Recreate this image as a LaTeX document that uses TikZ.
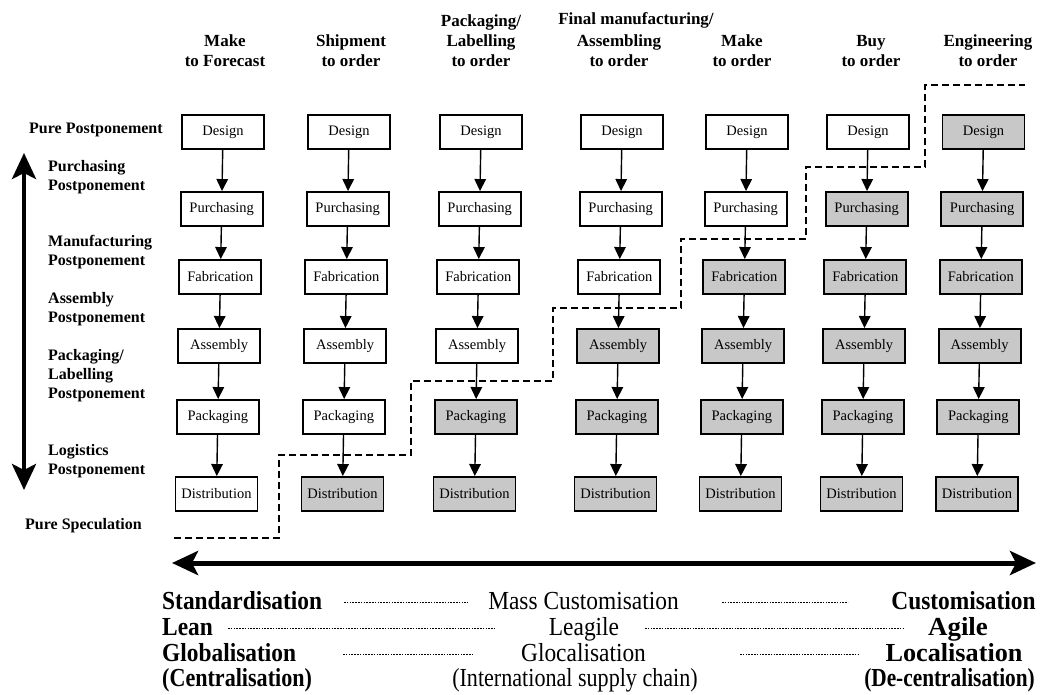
\documentclass[tikz,border=0pt]{standalone}
\usepackage{fontspec}
\setmainfont{Liberation Serif}
\newfontfamily\spectrumfont{Liberation Serif}[FakeStretch=0.9]
\newfontfamily\notefont{Liberation Serif}[FakeStretch=0.85]
\usetikzlibrary{arrows.meta}
\definecolor{boxgray}{RGB}{200,200,200}

\begin{document}
\begin{tikzpicture}[x=1pt,y=-1pt,
  hdr/.style={font=\bfseries\fontsize{17}{20}\selectfont, align=center, inner sep=0pt},
  lvl/.style={font=\bfseries\fontsize{16}{19}\selectfont, align=left, anchor=west, inner sep=0pt},
  stepbox/.style={draw, line width=1.9pt, minimum width=82pt, minimum height=34pt,
    inner sep=0pt, font=\fontsize{14.5}{17}\selectfont},
  flow/.style={-{Triangle[length=12pt,width=11.5pt]}, line width=1.4pt},
  big/.style={{Stealth[length=26pt,width=24pt,inset=6pt]}-{Stealth[length=26pt,width=24pt,inset=6pt]}},
  boundary/.style={line width=1.8pt, dash pattern=on 7pt off 4pt},
  sepdots/.style={line width=1pt, dash pattern=on 1.6pt off 1.2pt},
  endterm/.style={font=\spectrumfont\bfseries\fontsize{26}{30}\selectfont, inner sep=0pt},
  midterm/.style={font=\spectrumfont\fontsize{26}{30}\selectfont, inner sep=0pt},
  endnote/.style={font=\notefont\bfseries\fontsize{26}{30}\selectfont, inner sep=0pt},
  midnote/.style={font=\notefont\fontsize{26}{30}\selectfont, inner sep=0pt}
]
\useasboundingbox (0,0) rectangle (1064,695);

% column headings
\node[hdr] (h1) at (225,51) {Make\\to Forecast};
\node[hdr] (h2) at (351,51) {Shipment\\to order};
\node[hdr] (h3) at (481,41) {Packaging/\\Labelling\\to order};
\node[hdr] (h4a) at (636,20) {Final manufacturing/};
\node[hdr] (h4) at (619,51) {Assembling\\to order};
\node[hdr] (h5) at (742,51) {Make\\to order};
\node[hdr] (h6) at (871,51) {Buy\\to order};
\node[hdr] (h7) at (988,51) {Engineering\\to order};

% postponement levels
\node[lvl] (l0) at (29,130) {Pure Postponement};
\node[lvl] (l1) at (48,177) {Purchasing\\Postponement};
\node[lvl] (l2) at (48,252.5) {Manufacturing\\Postponement};
\node[lvl] (l3) at (48,309.5) {Assembly\\Postponement};
\node[lvl] (l4) at (48,375.5) {Packaging/\\Labelling\\Postponement};
\node[lvl] (l5) at (48,461.5) {Logistics\\Postponement};
\node[lvl] (l6) at (25,526) {Pure Speculation};

% vertical scale arrow
\coordinate (vtop) at (24,153);
\coordinate (vbot) at (24,490);
\draw[big, line width=4.5pt] (vbot) -- (vtop);

% process chains; rows from index \k on are order driven (shaded)
\foreach \c/\X/\k in {1/223/6, 2/349/5, 3/481/4, 4/622/3, 5/747/2, 6/868/1, 7/983.5/0}{
  \foreach \r/\Y/\t in {0/132/Design, 1/209/Purchasing, 2/277/Fabrication,
                        3/346/Assembly, 4/417/Packaging, 5/494/Distribution}{
    \ifnum\r<\k \def\fillc{white}\else\def\fillc{boxgray}\fi
    \node[stepbox, fill=\fillc] (b\c-\r) at ({\X-1.3*\r},\Y) {\t};
  }
  \foreach \r [count=\n from 1] in {0,...,4}
    \draw[flow] (b\c-\r) -- (b\c-\n);
}

% decoupling point boundary
\draw[boundary] (174,538) -- (279,538) -- (279,455) -- (411,455) -- (411,381)
  -- (553,381) -- (553,308) -- (681,308) -- (681,239) -- (806,239)
  -- (806,167) -- (925,167) -- (925,85) -- (1025,85);

% horizontal scale arrow
\coordinate (hl) at (172,563);
\coordinate (hr) at (1036,563);
\draw[big, line width=5pt] (hl) -- (hr);

% strategy spectrum
\node[endterm, anchor=base west] (s1) at (162,609) {Standardisation};
\node[midterm, anchor=base] (s2) at (583.5,609) {Mass Customisation};
\node[endterm, anchor=base] (s3) at (963.5,609) {Customisation};
\draw[sepdots] (344,602) -- (468,602);
\draw[sepdots] (722,602) -- (848,602);

\node[endterm, anchor=base west] (a1) at (162,635) {Lean};
\node[midterm, anchor=base] (a2) at (584,635) {Leagile};
\node[endterm, anchor=base] (a3) at (958,635) {\scalebox{1.15}[1]{Agile}};
\draw[sepdots] (228,628) -- (495,628);
\draw[sepdots] (645,628) -- (903,628);

\node[endterm, anchor=base west] (g1) at (162,661) {Globalisation};
\node[midterm, anchor=base] (g2) at (583.5,661) {Glocalisation};
\node[endterm, anchor=base] (g3) at (954,661) {\scalebox{1.12}[1]{Localisation}};
\draw[sepdots] (343,654) -- (472,654);
\draw[sepdots] (740,654) -- (860,654);

\node[endnote, anchor=base west] (c1) at (162,686) {(Centralisation)};
\node[midnote, anchor=base] (c2) at (575,686) {(International supply chain)};
\node[endnote, anchor=base east] (c3) at (1035,686) {\scalebox{0.965}[1]{(De-centralisation)}};
\end{tikzpicture}
\end{document}
